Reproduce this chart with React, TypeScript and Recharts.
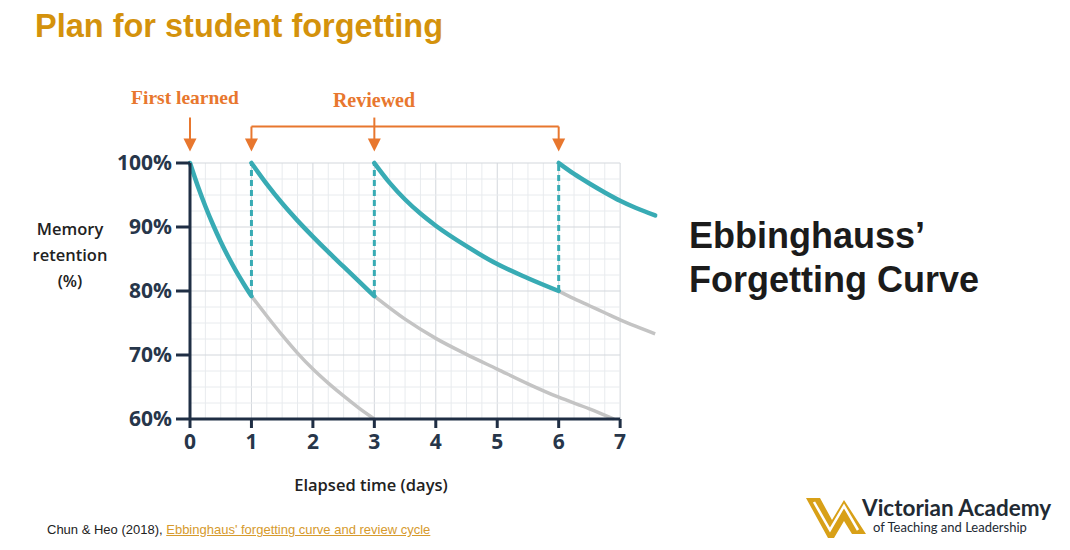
import React from 'react';
import { ComposedChart, Line, XAxis, YAxis, ReferenceLine, ReferenceDot } from 'recharts';

// axis ticks
const dayTicks = [0, 1, 2, 3, 4, 5, 6, 7];
const retentionTicks = [60, 70, 80, 90, 100];

// retention curves (t = elapsed days, r = % retained)
const learnCurve = [
  { t: 0, r: 100 }, { t: 0.125, r: 96.45 }, { t: 0.25, r: 93.25 }, { t: 0.375, r: 90.35 },
  { t: 0.5, r: 87.7 }, { t: 0.625, r: 85.3 }, { t: 0.75, r: 83.1 }, { t: 0.875, r: 81.1 }, { t: 1, r: 79.2 },
];
const review1Curve = [
  { t: 1, r: 100 }, { t: 1.25, r: 96.7 }, { t: 1.5, r: 93.7 }, { t: 1.75, r: 91 }, { t: 2, r: 88.5 },
  { t: 2.25, r: 86.1 }, { t: 2.5, r: 83.8 }, { t: 2.75, r: 81.5 }, { t: 3, r: 79.2 },
];
const review2Curve = [
  { t: 3, r: 100 }, { t: 3.25, r: 96.9 }, { t: 3.5, r: 94.3 }, { t: 3.75, r: 92.1 }, { t: 4, r: 90.2 },
  { t: 4.5, r: 87 }, { t: 5, r: 84.2 }, { t: 5.5, r: 82 }, { t: 6, r: 80 },
];
const review3Curve = [
  { t: 6, r: 100 }, { t: 6.25, r: 98.3 }, { t: 6.5, r: 96.8 }, { t: 6.75, r: 95.4 }, { t: 7, r: 94.1 },
  { t: 7.25, r: 93 }, { t: 7.57, r: 91.8 },
];
const fade1Curve = [
  { t: 1, r: 79.2 }, { t: 1.25, r: 76.1 }, { t: 1.5, r: 73.1 }, { t: 1.75, r: 70.3 }, { t: 2, r: 67.8 },
  { t: 2.25, r: 65.6 }, { t: 2.5, r: 63.6 }, { t: 2.75, r: 61.7 }, { t: 3, r: 60 },
];
const fade2Curve = [
  { t: 3, r: 79.2 }, { t: 3.5, r: 75.6 }, { t: 4, r: 72.6 }, { t: 4.5, r: 70.1 }, { t: 5, r: 67.8 },
  { t: 5.5, r: 65.5 }, { t: 6, r: 63.4 }, { t: 6.5, r: 61.6 }, { t: 6.9, r: 60 },
];
const fade3Curve = [
  { t: 6, r: 80 }, { t: 6.25, r: 78.8 }, { t: 6.5, r: 77.7 }, { t: 6.75, r: 76.6 }, { t: 7, r: 75.5 },
  { t: 7.25, r: 74.5 }, { t: 7.57, r: 73.3 },
];
const reviewDays = [1, 3, 6];
const reviewLows = [79.2, 79.2, 80];

const TEAL = '#38abb4';
const GREY = '#c4c4c4';
const NAVY = '#1f2e44';
const ORANGE = '#e8772e';
const GOLD = '#d4920c';

// grid every quarter day / 2.5%
const gridX = Array.from({ length: 29 }, (_, i) => i * 0.25);
const gridY = Array.from({ length: 17 }, (_, i) => 60 + i * 2.5);

// arrow positions above the plot (in retention units)
const ARROW_TIP = 101.8;
const ARROW_BASE = 103.7;
const BRACKET = 105.7;
const SHAFT_TOP = 107.1;

const ArrowHead = (props: any) => {
  const { cx, cy } = props;
  return <path d={`M${cx - 6.5},${cy - 13} L${cx + 6.5},${cy - 13} L${cx},${cy} Z`} fill={ORANGE} />;
};

const tickFont = { fill: '#27364a', fontSize: 21, fontWeight: 700, fontFamily: 'Open Sans' };

export default function App() {
  return (
    <div style={{ position: 'absolute', left: 0, top: 0, width: 1070, height: 550, background: '#fff', overflow: 'hidden' }}>
      <div style={{ position: 'absolute', left: 35, top: 8, fontFamily: 'Liberation Sans', fontWeight: 700, fontSize: 32.5, color: GOLD }}>
        Plan for student forgetting
      </div>

      <ComposedChart width={1070} height={550} margin={{ top: 163, right: 413, bottom: 91, left: 110 }} style={{ position: 'absolute', left: 0, top: 0 }}>
        {gridX.map((x) => (
          <ReferenceLine key={'gx' + x} segment={[{ x, y: 60 }, { x, y: 100 }]} stroke={x % 1 === 0 ? '#d3d7dc' : '#e8ebee'} strokeWidth={1} ifOverflow="visible" />
        ))}
        {gridY.map((y) => (
          <ReferenceLine key={'gy' + y} segment={[{ x: 0, y }, { x: 7, y }]} stroke={y % 10 === 0 ? '#d3d7dc' : '#e8ebee'} strokeWidth={1} ifOverflow="visible" />
        ))}

        <XAxis type="number" dataKey="t" domain={[0, 7.6]} ticks={dayTicks} axisLine={false}
          tickLine={{ stroke: NAVY, strokeWidth: 3 }} tickSize={9} tickMargin={6} tick={tickFont} height={40} />
        <YAxis type="number" dataKey="r" domain={[60, 100]} ticks={retentionTicks} tickFormatter={(v) => `${v}%`}
          axisLine={{ stroke: NAVY, strokeWidth: 3 }} tickLine={{ stroke: NAVY, strokeWidth: 3 }} tickSize={14} tickMargin={4} tick={tickFont} width={80} />

        <Line data={fade1Curve} dataKey="r" type="monotone" stroke={GREY} strokeWidth={3.5} dot={false} isAnimationActive={false} />
        <Line data={fade2Curve} dataKey="r" type="monotone" stroke={GREY} strokeWidth={3.5} dot={false} isAnimationActive={false} />
        <Line data={fade3Curve} dataKey="r" type="monotone" stroke={GREY} strokeWidth={3.5} dot={false} isAnimationActive={false} />

        {reviewDays.map((d, i) => (
          <Line key={'jump' + d} data={[{ t: d, r: reviewLows[i] }, { t: d, r: 100 }]} dataKey="r" type="linear"
            stroke={TEAL} strokeWidth={3} strokeDasharray="6 4" dot={false} isAnimationActive={false} />
        ))}

        {[learnCurve, review1Curve, review2Curve, review3Curve].map((c, i) => (
          <Line key={'teal' + i} data={c} dataKey="r" type="monotone" stroke={TEAL} strokeWidth={4.5}
            strokeLinecap="round" dot={false} isAnimationActive={false} />
        ))}

        <ReferenceLine segment={[{ x: 0, y: 60 }, { x: 7, y: 60 }]} stroke={NAVY} strokeWidth={3} ifOverflow="visible" />

        {/* first learned / reviewed arrows */}
        <ReferenceLine segment={[{ x: 0, y: SHAFT_TOP }, { x: 0, y: ARROW_BASE }]} stroke={ORANGE} strokeWidth={2} ifOverflow="visible" />
        <ReferenceLine segment={[{ x: 1, y: BRACKET }, { x: 6, y: BRACKET }]} stroke={ORANGE} strokeWidth={2} ifOverflow="visible" />
        <ReferenceLine segment={[{ x: 1, y: BRACKET }, { x: 1, y: ARROW_BASE }]} stroke={ORANGE} strokeWidth={2} ifOverflow="visible" />
        <ReferenceLine segment={[{ x: 6, y: BRACKET }, { x: 6, y: ARROW_BASE }]} stroke={ORANGE} strokeWidth={2} ifOverflow="visible" />
        <ReferenceLine segment={[{ x: 3, y: SHAFT_TOP }, { x: 3, y: ARROW_BASE }]} stroke={ORANGE} strokeWidth={2} ifOverflow="visible" />
        {[0, ...reviewDays].map((d) => (
          <ReferenceDot key={'tip' + d} x={d} y={ARROW_TIP} r={0} ifOverflow="visible" shape={ArrowHead} />
        ))}
      </ComposedChart>

      <div style={{ position: 'absolute', left: 125, top: 87, width: 120, textAlign: 'center', fontFamily: 'Liberation Serif', fontWeight: 700, fontSize: 19.5, color: ORANGE }}>
        First learned
      </div>
      <div style={{ position: 'absolute', left: 314, top: 89, width: 120, textAlign: 'center', fontFamily: 'Liberation Serif', fontWeight: 700, fontSize: 20, color: ORANGE }}>
        Reviewed
      </div>

      <div style={{ position: 'absolute', left: 20, top: 216, width: 100, textAlign: 'center', fontFamily: 'Open Sans', fontWeight: 600, fontSize: 16.5, lineHeight: '26px', color: '#222' }}>
        Memory<br />retention<br />(%)
      </div>
      <div style={{ position: 'absolute', left: 271, top: 473, width: 200, textAlign: 'center', fontFamily: 'Open Sans', fontWeight: 600, fontSize: 16.5, color: '#222' }}>
        Elapsed time (days)
      </div>

      <div style={{ position: 'absolute', left: 689, top: 214, fontFamily: 'Liberation Sans', fontWeight: 700, fontSize: 36, lineHeight: '44px', color: '#1b1b1b' }}>
        Ebbinghauss’<br />Forgetting Curve
      </div>

      <div style={{ position: 'absolute', left: 47, top: 522, fontFamily: 'Liberation Sans', fontSize: 13, color: '#222' }}>
        Chun &amp; Heo (2018), <span style={{ color: '#d69a2d', textDecoration: 'underline' }}>Ebbinghaus' forgetting curve and review cycle</span>
      </div>

      <svg style={{ position: 'absolute', left: 800, top: 494 }} width={70} height={48}>
        <polygon points="6,4 20,4 32,26 44,6 66,40 52,40 44,27 34,44 28,44" fill="#d8a017" />
        <polyline points="14,8 30,36 44,12 58,36" fill="none" stroke="#fff" strokeWidth={2.5} strokeLinejoin="miter" />
      </svg>
      <div style={{ position: 'absolute', left: 862, top: 497, fontFamily: 'Lato', fontWeight: 700, fontSize: 22.5, color: '#222a33', lineHeight: '22px' }}>
        Victorian Academy
      </div>
      <div style={{ position: 'absolute', left: 873, top: 520, fontFamily: 'Lato', fontSize: 13, color: '#222a33', lineHeight: '15px' }}>
        of Teaching and Leadership
      </div>
    </div>
  );
}
